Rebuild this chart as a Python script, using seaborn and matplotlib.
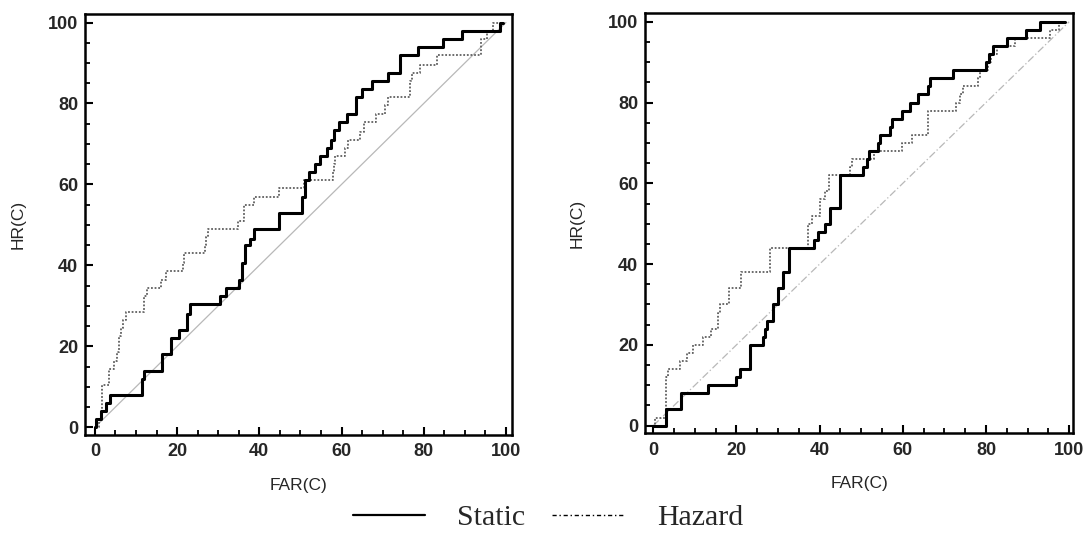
import matplotlib
matplotlib.use("Agg")
import matplotlib.pyplot as plt
import seaborn as sns
from matplotlib.lines import Line2D
from matplotlib.ticker import MultipleLocator

# ---- data (step-curve corners: FAR(C) where HR(C) jumps to the new level) ----
static_far_L = [0, 0.3, 1.4, 2.6, 3.8, 11.5, 11.9, 16.4, 18.4, 20.4, 22.4, 23.2, 30.4, 32.0, 35.0,
                35.8, 36.6, 37.7, 38.6, 44.7, 50.4, 51.2, 52.2, 53.6, 54.7, 56.4, 57.4, 58.1, 59.5, 61.3,
                63.6, 64.9, 67.4, 71.4, 74.3, 78.7, 84.8, 89.2, 98.5, 99.4]
static_hr_L = [0, 2, 4, 6, 8, 12, 14, 18, 22, 24, 28, 30.5, 32.5, 34.5, 36.5,
               40.5, 45, 46.5, 49, 53, 57, 61, 63, 65, 67, 69, 71, 73.5, 75.5, 77.5,
               81.5, 83.5, 85.5, 87.5, 92, 94, 96, 98, 100, 100]

hazard_far_L = [0, 1.0, 1.8, 3.4, 4.6, 5.4, 5.9, 6.3, 6.8, 7.5, 11.9, 12.6, 16.2, 17.4, 21.4,
                21.8, 26.7, 27.1, 27.5, 34.7, 36.2, 38.6, 44.7, 50.8, 57.9, 58.1, 58.5, 60.9, 61.6, 64.6,
                65.4, 68.4, 70.5, 71.2, 76.7, 77.2, 79.0, 83.2, 93.9, 95.4, 96.8, 98.5]
hazard_hr_L = [0, 2, 10.5, 14.5, 16.5, 18.5, 22.5, 24.5, 26.5, 28.5, 32.5, 34.5, 36.5, 38.5, 40.5,
               43, 45, 47, 49, 51, 55, 57, 59, 61, 63, 65, 67, 69, 71, 73,
               75.5, 77.5, 79.5, 81.5, 85.5, 87.5, 89.5, 92, 96, 98, 100, 100]

static_far_R = [0, 3.0, 6.6, 13.2, 20.0, 20.8, 23.2, 26.4, 26.8, 27.3, 28.8, 30.0, 31.1, 32.7, 38.6,
                39.7, 41.3, 42.5, 44.9, 50.5, 51.4, 51.8, 54.1, 54.6, 56.9, 57.3, 59.9, 61.7, 63.6, 66.1,
                66.5, 72.0, 80.0, 80.8, 81.7, 85.1, 89.6, 93.1, 99.0]
static_hr_R = [0, 4, 8, 10, 12, 14, 20, 22, 24, 26, 30, 34, 38, 44, 46,
               48, 50, 54, 62, 64, 66, 68, 70, 72, 74, 76, 78, 80, 82, 84,
               86, 88, 90, 92, 94, 96, 98, 100, 100]

hazard_far_R = [0, 0.5, 3.1, 3.5, 6.4, 8.2, 9.6, 12.0, 13.8, 15.6, 16.0, 18.3, 21.0, 28.1, 37.3,
                38.1, 40.1, 41.3, 42.3, 47.3, 47.9, 53.0, 59.8, 62.2, 66.0, 72.9, 73.7, 74.5, 78.1, 78.5,
                80.5, 81.1, 82.6, 87.0, 95.4, 97.5, 99.0]
hazard_hr_R = [0, 2, 12, 14, 16, 18, 20, 22, 24, 28, 30, 34, 38, 44, 50,
               52, 56, 58, 62, 64, 66, 68, 70, 72, 78, 80, 82, 84, 86, 88,
               90, 92, 94, 96, 98, 100, 100]

diagonal = [0, 100]
tick_vals = [0, 20, 40, 60, 80, 100]
tick_labels = ["0", "20", "40", "60", "80", "100"]
series_names = ["Static", "Hazard"]
x_label = "FAR(C)"
y_label = "HR(C)"

# ---- style ----
sns.set_theme(style="white")
plt.rcParams['font.family'] = ['Liberation Sans', 'DejaVu Sans']

fig = plt.figure(figsize=(10.83, 5.43), dpi=100)
W, H = 1083, 543
axL = fig.add_axes([85 / W, 1 - 435 / H, 426.7 / W, 421 / H])
axR = fig.add_axes([645 / W, 1 - 433.3 / H, 428.3 / W, 420 / H])


def panel(ax, s_far, s_hr, h_far, h_hr, diag_ls, xlim):
    sns.lineplot(x=diagonal, y=diagonal, ax=ax, color="#b8b8b8", linewidth=0.9,
                 linestyle=diag_ls, estimator=None, sort=False)
    sns.lineplot(x=h_far, y=h_hr, ax=ax, color="#606060", linewidth=1.3,
                 linestyle=(0, (1, 1)), drawstyle="steps-post", estimator=None, sort=False)
    sns.lineplot(x=s_far, y=s_hr, ax=ax, color="black", linewidth=2.2,
                 drawstyle="steps-post", estimator=None, sort=False)
    ax.set_xlim(*xlim)
    ax.set_ylim(-1.9, 102.1)
    ax.set_xticks(tick_vals, labels=tick_labels, fontsize=13, fontweight="bold")
    ax.set_yticks(tick_vals, labels=tick_labels, fontsize=13, fontweight="bold")
    ax.xaxis.set_minor_locator(MultipleLocator(5))
    ax.yaxis.set_minor_locator(MultipleLocator(5))
    ax.tick_params(which="major", direction="in", length=6, width=1.5, color="black",
                   bottom=True, left=True, top=False, right=False)
    ax.tick_params(which="minor", direction="in", length=3.5, width=1.3, color="black",
                   bottom=True, left=True, top=False, right=False)
    ax.tick_params(axis="x", which="major", pad=6)
    ax.tick_params(axis="y", which="major", pad=5)
    for sp in ax.spines.values():
        sp.set_visible(True)
        sp.set_color("black")
        sp.set_linewidth(1.8)
    ax.set_xlabel(x_label, fontsize=12.5)
    ax.set_ylabel(y_label, fontsize=12.5)
    ax.xaxis.set_label_coords(0.5, -0.102)
    ax.yaxis.set_label_coords(-0.14, 0.5)
    ax.set_facecolor("white")


panel(axL, static_far_L, static_hr_L, hazard_far_L, hazard_hr_L, "-", (-2.4, 101.4))
panel(axR, static_far_R, static_hr_R, hazard_far_R, hazard_hr_R, (0, (6, 2, 1, 2)), (-2.0, 101.0))

handles = [Line2D([], [], color="black", linewidth=1.6),
           Line2D([], [], color="black", linewidth=1.0, dashes=(3, 2, 1, 2))]
fig.legend(handles, series_names, loc="center", bbox_to_anchor=(0.506, 0.046), ncol=2,
           frameon=False, prop={"family": "Liberation Serif", "size": 21.5},
           handlelength=2.4, handletextpad=1.1, columnspacing=0.9)

fig.savefig("out.png", dpi=100, facecolor="white")
